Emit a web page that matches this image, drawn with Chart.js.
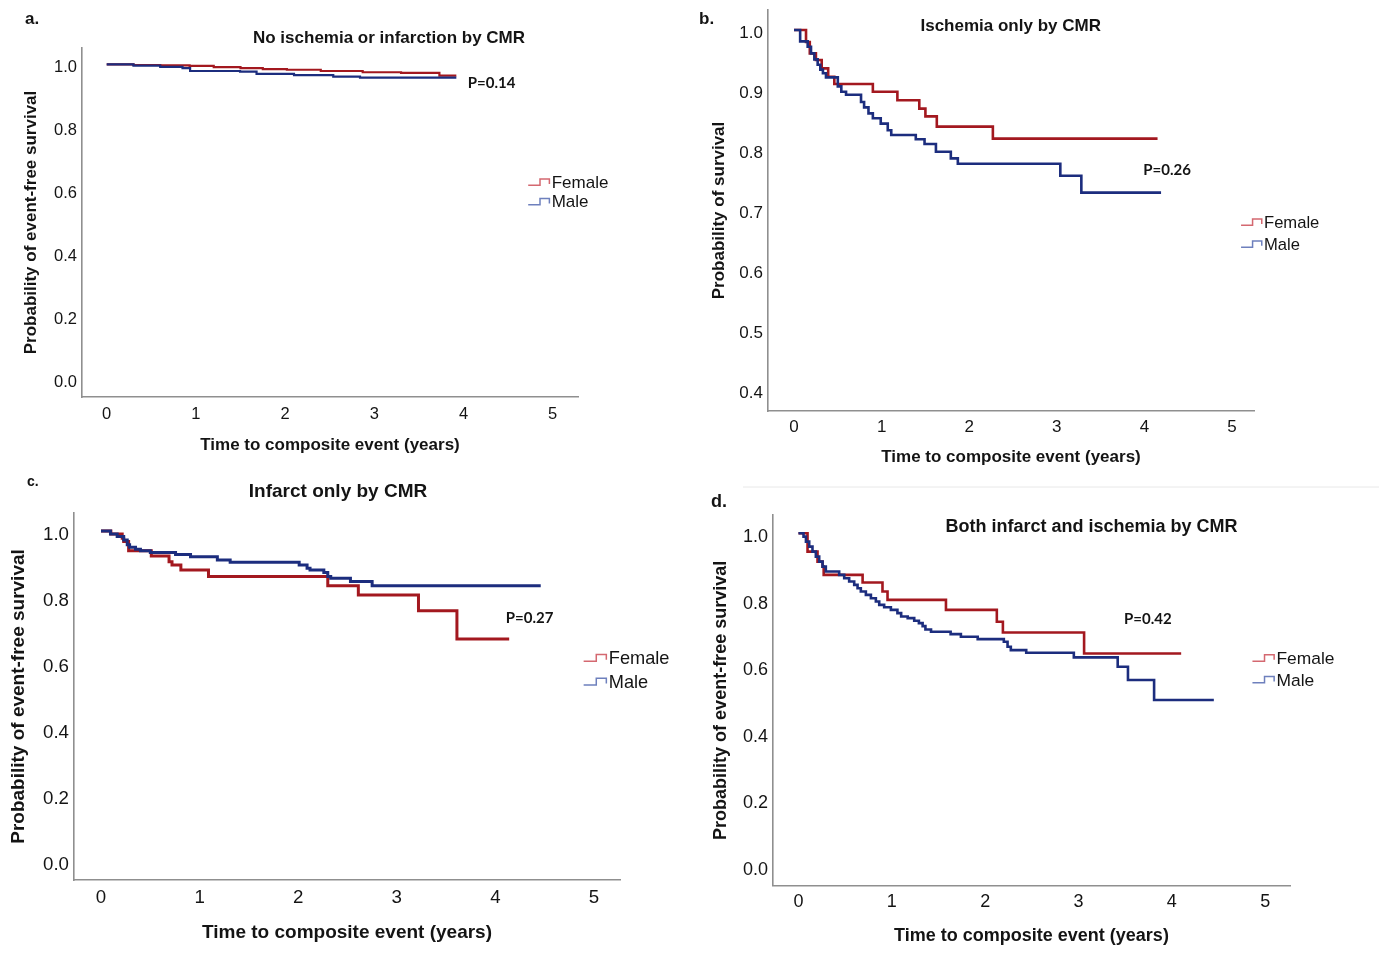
<!DOCTYPE html>
<html>
<head>
<meta charset="utf-8">
<title>Event-free survival by sex and CMR findings</title>
<script src="https://cdn.jsdelivr.net/npm/chart.js@4.4.0/dist/chart.umd.min.js"></script>
<style>
  html, body { margin: 0; padding: 0; background: #fff; overflow: hidden; }
  #wrap { position: relative; width: 1379px; height: 959px; overflow: hidden; background: #fff; }
  canvas { position: absolute; left: -40px; top: -40px; }
</style>
</head>
<body>
<div id="wrap">
  <canvas id="panelA" width="1459" height="1039"></canvas>
  <canvas id="panelB" width="1459" height="1039"></canvas>
  <canvas id="panelC" width="1459" height="1039"></canvas>
  <canvas id="panelD" width="1459" height="1039"></canvas>
</div>
<script>
// Kaplan-Meier curves: time (years) and survival probability
const groups = ['Female', 'Male'];
const xTicks = [0, 1, 2, 3, 4, 5];
const yTicksFull = [0.0, 0.2, 0.4, 0.6, 0.8, 1.0];
const yTicksB = [0.4, 0.5, 0.6, 0.7, 0.8, 0.9, 1.0];

// a. No ischemia or infarction
const aFemaleT = [0, 0.3, 0.6, 0.93, 1.2, 1.5, 1.75, 2.02, 2.4, 2.87, 3.3, 3.73, 3.92];
const aFemaleS = [1, 0.998, 0.997, 0.995, 0.991, 0.988, 0.985, 0.983, 0.979, 0.975, 0.973, 0.964, 0.964];
const aMaleT = [0, 0.3, 0.6, 0.85, 0.935, 1.495, 1.68, 2.1, 2.54, 2.84, 3.92];
const aMaleS = [1, 0.996, 0.992, 0.988, 0.979, 0.977, 0.970, 0.966, 0.961, 0.958, 0.958];

// b. Ischemia only
const bFemaleT = [0, 0.137, 0.18, 0.25, 0.316, 0.39, 0.46, 0.9, 1.18, 1.43, 1.5, 1.63, 2.27, 4.15];
const bFemaleS = [1, 0.98, 0.961, 0.95, 0.936, 0.922, 0.91, 0.897, 0.883, 0.869, 0.856, 0.839, 0.819, 0.819];
const bMaleT = [0, 0.07, 0.156, 0.194, 0.232, 0.27, 0.30, 0.33, 0.365, 0.50, 0.54, 0.594, 0.765, 0.80, 0.85, 0.90, 0.99, 1.07, 1.11, 1.39, 1.49, 1.62, 1.79, 1.87, 3.04, 3.28, 4.19];
const bMaleS = [1, 0.981, 0.972, 0.961, 0.951, 0.942, 0.934, 0.928, 0.921, 0.906, 0.897, 0.892, 0.88, 0.871, 0.861, 0.853, 0.844, 0.833, 0.825, 0.818, 0.81, 0.797, 0.786, 0.777, 0.757, 0.729, 0.729];

// c. Infarct only
const cFemaleT = [0, 0.10, 0.215, 0.23, 0.28, 0.51, 0.69, 0.72, 0.81, 1.09, 2.30, 2.61, 3.22, 3.61, 4.14];
const cFemaleS = [1, 0.991, 0.978, 0.968, 0.94, 0.924, 0.907, 0.897, 0.882, 0.862, 0.834, 0.806, 0.758, 0.673, 0.673];
const cMaleT = [0, 0.096, 0.164, 0.23, 0.266, 0.29, 0.35, 0.40, 0.50, 0.756, 0.908, 1.18, 1.31, 2.01, 2.09, 2.12, 2.26, 2.30, 2.33, 2.53, 2.75, 4.46];
const cMaleS = [1, 0.991, 0.983, 0.973, 0.958, 0.951, 0.945, 0.94, 0.935, 0.929, 0.922, 0.912, 0.905, 0.897, 0.887, 0.882, 0.874, 0.862, 0.857, 0.847, 0.834, 0.834];

// d. Both infarct and ischemia
const dFemaleT = [0, 0.097, 0.204, 0.258, 0.27, 0.687, 0.90, 0.954, 1.58, 2.125, 2.19, 3.06, 4.10];
const dFemaleS = [1, 0.945, 0.915, 0.90, 0.875, 0.852, 0.825, 0.80, 0.77, 0.734, 0.702, 0.639, 0.639];
const dMaleT = [0, 0.054, 0.08, 0.115, 0.15, 0.186, 0.222, 0.258, 0.293, 0.436, 0.49, 0.543, 0.597, 0.633, 0.668, 0.722, 0.776, 0.829, 0.865, 0.918, 0.99, 1.06, 1.10, 1.17, 1.24, 1.29, 1.33, 1.36, 1.42, 1.63, 1.74, 1.92, 2.20, 2.24, 2.275, 2.44, 2.95, 3.42, 3.53, 3.81, 4.45];
const dMaleS = [1, 0.99, 0.975, 0.96, 0.945, 0.93, 0.915, 0.90, 0.885, 0.875, 0.865, 0.855, 0.845, 0.835, 0.825, 0.815, 0.805, 0.795, 0.785, 0.778, 0.77, 0.76, 0.75, 0.745, 0.737, 0.73, 0.721, 0.711, 0.704, 0.697, 0.689, 0.682, 0.674, 0.659, 0.649, 0.641, 0.627, 0.599, 0.559, 0.499, 0.499];

const panelTitles = ['No ischemia or infarction by CMR', 'Ischemia only by CMR', 'Infarct only by CMR', 'Both infarct and ischemia by CMR'];
const yTitles = ['Probability of event-free survival', 'Probability of survival', 'Probability of event-free survival', 'Probability of event-free survival'];
const xTitle = 'Time to composite event (years)';
const pValues = ['P=0.14', 'P=0.26', 'P=0.27', 'P=0.42'];

const FONT = "'Liberation Sans', Arial, sans-serif";
const PFONT = "Lato, 'Open Sans', sans-serif";
const TXT = '#141414';
const AXIS = '#8f8f8f';
const FEMALE = '#a3181f';
const MALE = '#1c2d7e';
const LEGEND_COLORS = ['#d46870', '#6e80bd'];
const OFF = 40, CW = 1459, CH = 1039;

// letters, titles, p values and step-icon legend
const decor = {
  id: 'decor',
  afterDraw(chart, args, o) {
    const ctx = chart.ctx;
    ctx.save();
    ctx.translate(OFF, OFF);
    ctx.textBaseline = 'middle';
    ctx.fillStyle = TXT;

    ctx.textAlign = 'left';
    ctx.font = `bold ${o.letterSize}px ${FONT}`;
    ctx.fillText(o.letter, o.letterX, o.letterY);

    ctx.textAlign = 'center';
    ctx.font = `bold ${o.titleSize}px ${FONT}`;
    ctx.fillText(o.title, o.titleX, o.titleY);

    ctx.textAlign = 'left';
    ctx.font = `bold 15px ${PFONT}`;
    ctx.fillText(o.p, o.pX, o.pY);

    const k = o.legendSize / 17;
    ctx.font = `${o.legendSize}px ${FONT}`;
    chart.data.datasets.forEach((ds, i) => {
      const x0 = o.legendX, y = o.legendY[i];
      ctx.strokeStyle = LEGEND_COLORS[i];
      ctx.lineWidth = 1.5;
      ctx.beginPath();
      ctx.moveTo(x0 - 23.5 * k, y + 2 * k);
      ctx.lineTo(x0 - 11.7 * k, y + 2 * k);
      ctx.lineTo(x0 - 11.7 * k, y - 4.3 * k);
      ctx.lineTo(x0 - 2.3 * k, y - 4.3 * k);
      ctx.lineTo(x0 - 2.3 * k, y + 0.6 * k);
      ctx.stroke();
      ctx.fillStyle = TXT;
      ctx.fillText(ds.label, x0, y);
    });

    if (o.separator) {
      ctx.strokeStyle = '#e8e8e8';
      ctx.lineWidth = 1;
      ctx.beginPath();
      ctx.moveTo(o.separator[0], o.separator[2]);
      ctx.lineTo(o.separator[1], o.separator[2]);
      ctx.stroke();
    }
    ctx.restore();
  }
};

function km(times, surv) {
  return times.map((t, i) => ({ x: t, y: surv[i] }));
}

function build(p) {
  const lh = p.font * 1.2;
  const tickLH = p.tickFont * 1.2;
  const W = p.l - (p.yTitleX - lh / 2);
  const H = p.xTitleY + lh / 2 - p.b;
  const titleFont = { family: FONT, size: p.font, weight: 'bold', lineHeight: 1.2 };
  const tickFont = { family: FONT, size: p.tickFont, lineHeight: 1.2 };

  new Chart(document.getElementById(p.id), {
    type: 'line',
    data: {
      datasets: [
        { label: groups[0], data: km(p.female[0], p.female[1]), borderColor: FEMALE, borderWidth: p.lineW,
          stepped: true, pointRadius: 0, fill: false, order: 1 },
        { label: groups[1], data: km(p.male[0], p.male[1]), borderColor: MALE, borderWidth: p.lineW,
          stepped: true, pointRadius: 0, fill: false, order: 0 }
      ]
    },
    options: {
      responsive: false,
      animation: false,
      events: [],
      layout: {
        autoPadding: false,
        padding: { left: p.l + OFF - W, top: p.t + OFF, right: CW - OFF - p.r, bottom: CH - OFF - p.b - H }
      },
      plugins: {
        legend: { display: false },
        tooltip: { enabled: false },
        decor: p.decor
      },
      scales: {
        x: {
          type: 'linear', min: p.xMin, max: p.xMax,
          afterBuildTicks: s => { s.ticks = xTicks.map(v => ({ value: v })); },
          afterFit: s => { s.height = H; },
          grid: { display: false, drawTicks: false },
          border: { display: true, color: AXIS, width: 1.6 },
          ticks: { autoSkip: false, maxRotation: 0, padding: p.xTickOff - tickLH / 2, color: TXT, font: tickFont,
                   callback: v => String(v) },
          title: { display: true, text: xTitle, color: TXT, padding: 0, font: titleFont }
        },
        y: {
          type: 'linear', min: p.yMin, max: p.yMax,
          afterBuildTicks: s => { s.ticks = p.yTicks.map(v => ({ value: v })); },
          afterFit: s => { s.width = W; },
          grid: { display: false, drawTicks: false },
          border: { display: true, color: AXIS, width: 1.6 },
          ticks: { autoSkip: false, padding: 5, labelOffset: p.labelOffset, color: TXT, font: tickFont,
                   callback: v => Number(v).toFixed(1) },
          title: { display: true, text: p.yTitle, color: TXT, padding: 0, font: titleFont }
        }
      }
    },
    plugins: [decor]
  });
}

build({
  id: 'panelA', female: [aFemaleT, aFemaleS], male: [aMaleT, aMaleS], yTicks: yTicksFull, yTitle: yTitles[0],
  l: 82, r: 578, t: 48, b: 397, xMin: -0.277, xMax: 5.284, yMin: -0.056, yMax: 1.052,
  font: 17, tickFont: 16.5, yTitleX: 31.6, xTitleY: 445, xTickOff: 17, labelOffset: 3.5, lineW: 2.2,
  decor: { letter: 'a.', letterX: 25, letterY: 19, letterSize: 17, title: panelTitles[0], titleX: 389, titleY: 38, titleSize: 17,
           p: pValues[0], pX: 467.7, pY: 82.8, legendX: 551.7, legendY: [183.3, 202.8], legendSize: 17 }
});

build({
  id: 'panelB', female: [bFemaleT, bFemaleS], male: [bMaleT, bMaleS], yTicks: yTicksB, yTitle: yTitles[1],
  l: 768, r: 1254, t: 10, b: 411, xMin: -0.297, xMax: 5.251, yMin: 0.365, yMax: 1.0333,
  font: 17, tickFont: 17, yTitleX: 719, xTitleY: 457.5, xTickOff: 16.7, labelOffset: 3, lineW: 2.6,
  decor: { letter: 'b.', letterX: 699, letterY: 19, letterSize: 17, title: panelTitles[1], titleX: 1010.7, titleY: 26.5, titleSize: 17,
           p: pValues[1], pX: 1143.3, pY: 170, legendX: 1264, legendY: [223.3, 245.2], legendSize: 16.6 }
});

build({
  id: 'panelC', female: [cFemaleT, cFemaleS], male: [cMaleT, cMaleS], yTicks: yTicksFull, yTitle: yTitles[2],
  l: 74, r: 620, t: 513, b: 880, xMin: -0.274, xMax: 5.264, yMin: -0.0576, yMax: 1.0545,
  font: 19, tickFont: 18.7, yTitleX: 18.7, xTitleY: 933, xTickOff: 17.7, labelOffset: 4, lineW: 3,
  decor: { letter: 'c.', letterX: 27, letterY: 482, letterSize: 14, title: panelTitles[2], titleX: 338, titleY: 492, titleSize: 19,
           p: pValues[2], pX: 505.7, pY: 618.3, legendX: 608.8, legendY: [659.2, 682.8], legendSize: 18.2 }
});

build({
  id: 'panelD', female: [dFemaleT, dFemaleS], male: [dMaleT, dMaleS], yTicks: yTicksFull, yTitle: yTitles[3],
  l: 773, r: 1290, t: 515, b: 885.7, xMin: -0.273, xMax: 5.266, yMin: -0.059, yMax: 1.055,
  font: 18, tickFont: 18, yTitleX: 721.4, xTitleY: 935.6, xTickOff: 16, labelOffset: 4, lineW: 2.6,
  decor: { letter: 'd.', letterX: 711, letterY: 502, letterSize: 18, title: panelTitles[3], titleX: 1091.5, titleY: 527, titleSize: 18,
           p: pValues[3], pX: 1124, pY: 618.7, legendX: 1276.5, legendY: [659.2, 680.8], legendSize: 17.4,
           separator: [743, 1379, 487] }
});
</script>
</body>
</html>
